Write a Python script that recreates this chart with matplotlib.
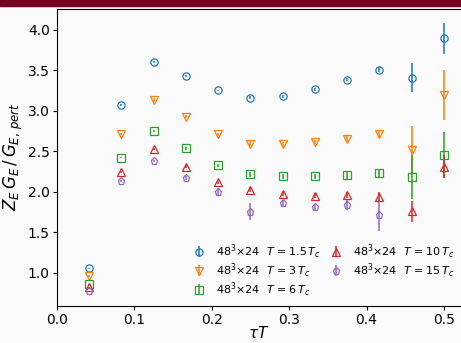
import matplotlib
matplotlib.use("Agg")
import matplotlib.pyplot as plt
import numpy as np

plt.rcParams["mathtext.fontset"] = "dejavusans"

tau_T = np.arange(1, 13) / 24.0

z15 = [1.054, 3.067, 3.60, 3.43, 3.248, 3.158, 3.178, 3.264, 3.383, 3.505, 3.407, 3.894]
e15 = [0.01, 0.01, 0.01, 0.01, 0.01, 0.02, 0.02, 0.02, 0.02, 0.03, 0.18, 0.19]

z3 = [0.96, 2.708, 3.13, 2.925, 2.708, 2.594, 2.585, 2.613, 2.655, 2.708, 2.515, 3.19]
e3 = [0.01, 0.01, 0.02, 0.02, 0.02, 0.03, 0.03, 0.03, 0.04, 0.05, 0.30, 0.31]

z6 = [0.857, 2.42, 2.748, 2.536, 2.327, 2.217, 2.189, 2.189, 2.20, 2.226, 2.177, 2.45]
e6 = [0.01, 0.01, 0.01, 0.02, 0.02, 0.03, 0.03, 0.03, 0.04, 0.05, 0.27, 0.28]

z10 = [0.82, 2.245, 2.524, 2.31, 2.115, 2.024, 1.971, 1.95, 1.96, 1.94, 1.76, 2.307]
e10 = [0.01, 0.01, 0.01, 0.02, 0.02, 0.03, 0.03, 0.03, 0.04, 0.05, 0.13, 0.14]

z15t = [0.77, 2.131, 2.38, 2.168, 2.0, 1.755, 1.858, 1.81, 1.837, 1.714]
e15t = [0.01, 0.01, 0.01, 0.02, 0.04, 0.10, 0.04, 0.03, 0.06, 0.20]

labels = [
    r"$48^3{\times}24\ \ T\,{=}1.5\,T_c$",
    r"$48^3{\times}24\ \ T\,{=}3\,T_c$",
    r"$48^3{\times}24\ \ T\,{=}6\,T_c$",
    r"$48^3{\times}24\ \ T\,{=}10\,T_c$",
    r"$48^3{\times}24\ \ T\,{=}15\,T_c$",
]

bg = "#fafafa"
fig = plt.figure(figsize=(4.61, 3.43), dpi=100, facecolor=bg)
ax = fig.add_axes([0.123, 0.109, 0.877, 0.865], facecolor=bg)

# dark red band at the top of the slide
fig.patches.append(plt.Rectangle((0, 0.982), 1, 0.018, transform=fig.transFigure,
                                 color="#7a0020", zorder=5))

series = [
    (tau_T, z15, e15, "o", "tab:blue"),
    (tau_T, z3, e3, "v", "tab:orange"),
    (tau_T, z6, e6, "s", "tab:green"),
    (tau_T, z10, e10, "^", "tab:red"),
    (tau_T[:len(z15t)], z15t, e15t, "p", "tab:purple"),
]

for (x, y, e, m, c), lab in zip(series, labels):
    ax.errorbar(x, y, yerr=e, fmt=m, color=c, mfc="none", ms=5.2, mew=0.9,
                elinewidth=1.1, capsize=0, label=lab)

ax.set_xlim(0, 0.522)
ax.set_ylim(0.595, 4.254)
ax.set_xticks([0.0, 0.1, 0.2, 0.3, 0.4, 0.5])
ax.set_yticks([1.0, 1.5, 2.0, 2.5, 3.0, 3.5, 4.0])
ax.tick_params(labelsize=10, length=3, pad=2)
ax.set_xlabel(r"$\tau T$", fontsize=11, labelpad=-1)
ax.set_ylabel(r"$Z_E\, G_E\, /\, G_{E,\,pert}$", fontsize=12, labelpad=2)
ax.spines["right"].set_visible(False)

ax.legend(loc="lower right", ncol=2, frameon=False, fontsize=8,
          handletextpad=0.9, columnspacing=0.8, handlelength=1.2,
          labelspacing=0.06, borderaxespad=0.2, bbox_to_anchor=(1.0, 0.0))

fig.savefig("out.png", dpi=100, facecolor=bg)
